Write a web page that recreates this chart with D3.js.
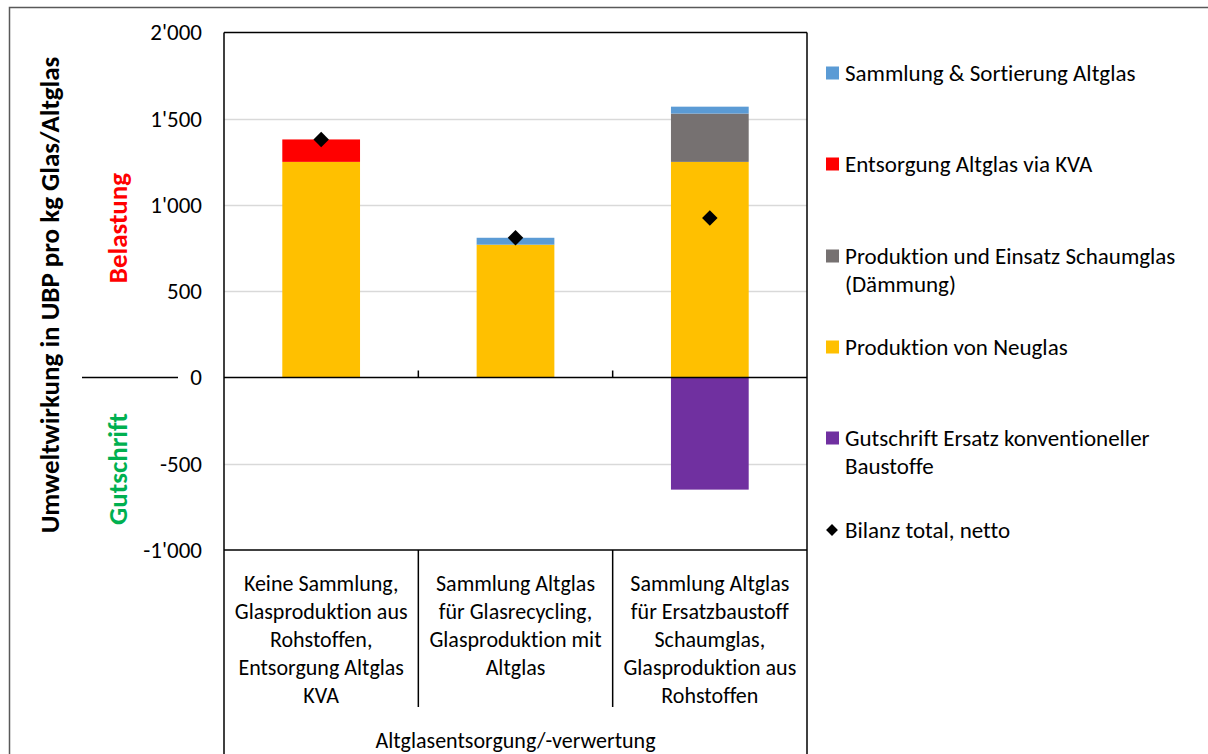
<!DOCTYPE html>
<html><head><meta charset="utf-8">
<script src="https://cdn.jsdelivr.net/npm/d3@7"></script>
<style>
html,body{margin:0;padding:0;background:#fff;}
svg text{font-family:Calibri, Carlito, Lato, "Open Sans", sans-serif; font-variant-ligatures:none; font-feature-settings:"liga" 0;}
</style></head>
<body>
<svg id="chart" width="1208" height="754"></svg>
<script>
// ---- data ----
const categories = [
  ["Keine Sammlung,", "Glasproduktion aus", "Rohstoffen,", "Entsorgung Altglas", "KVA"],
  ["Sammlung Altglas", "für Glasrecycling,", "Glasproduktion mit", "Altglas"],
  ["Sammlung Altglas", "für Ersatzbaustoff", "Schaumglas,", "Glasproduktion aus", "Rohstoffen"]
];
const groupLabel = "Altglasentsorgung/-verwertung";
const seriesNames = [
  "Sammlung & Sortierung Altglas",
  "Entsorgung Altglas via KVA",
  "Produktion und Einsatz Schaumglas (Dämmung)",
  "Produktion von Neuglas",
  "Gutschrift Ersatz konventioneller Baustoffe"
];
const sammlung   = [0, 40, 40];
const entsorgung = [130, 0, 0];
const schaumglas = [0, 0, 280];
const neuglas    = [1250, 770, 1250];
const gutschrift = [0, 0, -650];
const netto      = [1380, 810, 925];
const nettoName  = "Bilanz total, netto";
const yTicks = [-1000, -500, 0, 500, 1000, 1500, 2000];
const yTitle = "Umweltwirkung in UBP pro kg Glas/Altglas";
const posLabel = "Belastung";
const negLabel = "Gutschrift";

// ---- build ----
const colors = {
  "Sammlung & Sortierung Altglas": "#5b9bd5",
  "Entsorgung Altglas via KVA": "#ff0000",
  "Produktion und Einsatz Schaumglas (Dämmung)": "#767171",
  "Produktion von Neuglas": "#ffc000",
  "Gutschrift Ersatz konventioneller Baustoffe": "#7030a0"
};
const legendLines = [
  ["Sammlung & Sortierung Altglas"],
  ["Entsorgung Altglas via KVA"],
  ["Produktion und Einsatz Schaumglas", "(Dämmung)"],
  ["Produktion von Neuglas"],
  ["Gutschrift Ersatz konventioneller", "Baustoffe"]
];
const valuesBy = {
  [seriesNames[0]]: sammlung,
  [seriesNames[1]]: entsorgung,
  [seriesNames[2]]: schaumglas,
  [seriesNames[3]]: neuglas,
  [seriesNames[4]]: gutschrift
};
const table = categories.map((c, i) => {
  const row = {idx: i};
  seriesNames.forEach(s => row[s] = valuesBy[s][i]);
  return row;
});
const stackKeys = [seriesNames[4], seriesNames[3], seriesNames[2], seriesNames[1], seriesNames[0]];
const stacked = d3.stack().keys(stackKeys).offset(d3.stackOffsetDiverging)(table);

const svg = d3.select("#chart");
const L = 224, R = 807, T = 32.5, B = 550;
const x = d3.scaleBand().domain(categories.map((c, i) => i)).range([L, R]).paddingInner(0.6).paddingOuter(0.3);
const y = d3.scaleLinear().domain([-1000, 2000]).range([B, T]);
const fmt = d3.formatLocale({decimal: ".", thousands: "'", grouping: [3], currency: ["", ""], minus: "-"}).format(",");

// outer frame
svg.append("rect").attr("x", 9.5).attr("y", 7.5).attr("width", 1400).attr("height", 900)
  .attr("fill", "none").attr("stroke", "#595959").attr("stroke-width", 1.5);

// gridlines
svg.append("g").selectAll("line").data(yTicks.filter(t => t !== 0 && t !== 2000 && t !== -1000)).join("line")
  .attr("x1", L).attr("x2", R).attr("y1", d => Math.round(y(d)) + 0.5).attr("y2", d => Math.round(y(d)) + 0.5)
  .attr("stroke", "#d9d9d9").attr("stroke-width", 1.5);

// y axis labels
const yAxis = d3.axisLeft(y).tickValues(yTicks).tickFormat(fmt).tickSize(0).tickPadding(22);
const ya = svg.append("g").attr("transform", `translate(${L},0)`).call(yAxis);
ya.select(".domain").remove();
ya.selectAll("text").attr("font-size", 23).attr("fill", "#000")
  .style("font-family", "Calibri, Carlito, Lato, sans-serif");

// bars
svg.append("g").selectAll("g").data(stacked).join("g")
  .attr("fill", d => colors[d.key])
  .selectAll("rect").data(d => d.filter(p => p[1] - p[0] !== 0)).join("rect")
  .attr("x", d => x(d.data.idx)).attr("width", x.bandwidth())
  .attr("y", d => y(d[1])).attr("height", d => y(d[0]) - y(d[1]));

// plot borders
const lines = svg.append("g").attr("stroke", "#000").attr("stroke-width", 1.5).attr("fill", "none");
lines.append("line").attr("x1", L).attr("x2", L).attr("y1", T).attr("y2", 754);
lines.append("line").attr("x1", R).attr("x2", R).attr("y1", T).attr("y2", 754);
lines.append("line").attr("x1", L).attr("x2", R).attr("y1", T).attr("y2", T);
lines.append("line").attr("x1", L).attr("x2", R).attr("y1", B).attr("y2", B);
lines.append("line").attr("x1", L).attr("x2", R).attr("y1", y(0)).attr("y2", y(0));
lines.append("line").attr("x1", 82).attr("x2", 178).attr("y1", y(0)).attr("y2", y(0));
// category dividers and ticks
const step = x.step();
const dividers = [1, 2].map(i => L + step * i);
lines.selectAll(".div").data(dividers).join("line").attr("class", "div")
  .attr("x1", d => d).attr("x2", d => d).attr("y1", B).attr("y2", 707);
lines.selectAll(".tk").data(dividers).join("line").attr("class", "tk")
  .attr("x1", d => d).attr("x2", d => d).attr("y1", y(0) - 7).attr("y2", y(0));

// netto diamonds
svg.append("g").selectAll("path").data(netto).join("path")
  .attr("d", d3.symbol().type(d3.symbolSquare).size(120))
  .attr("transform", (d, i) => `translate(${x(i) + x.bandwidth() / 2},${y(d)}) rotate(45)`)
  .attr("fill", "#000");

// category labels
const catG = svg.append("g").attr("font-size", 22).attr("fill", "#000").attr("text-anchor", "middle");
categories.forEach((lns, i) => {
  const cx = x(i) + x.bandwidth() / 2;
  lns.forEach((t, j) => {
    catG.append("text").attr("x", cx).attr("y", 583 + j * 28).attr("dy", "0.35em").text(t);
  });
});
catG.append("text").attr("x", (L + R) / 2).attr("y", 740).attr("dy", "0.35em").text(groupLabel);

// y titles
svg.append("text").attr("transform", `translate(59,295) rotate(-90)`)
  .attr("text-anchor", "middle").attr("font-size", 27).attr("font-weight", "bold").attr("fill", "#000").text(yTitle);
svg.append("text").attr("transform", `translate(127,228) rotate(-90)`)
  .attr("text-anchor", "middle").attr("font-size", 27).attr("font-weight", "bold").attr("fill", "#ff0000").text(posLabel);
svg.append("text").attr("transform", `translate(127,469) rotate(-90)`)
  .attr("text-anchor", "middle").attr("font-size", 27).attr("font-weight", "bold").attr("fill", "#00b050").text(negLabel);

// legend
const legY = [73, 164, 256, 347, 438];
const lg = svg.append("g").attr("font-size", 23).attr("fill", "#000");
seriesNames.forEach((s, i) => {
  lg.append("rect").attr("x", 826).attr("y", legY[i] - 6.5).attr("width", 13).attr("height", 13).attr("fill", colors[s]);
  legendLines[i].forEach((t, j) => {
    lg.append("text").attr("x", 845).attr("y", legY[i] + j * 28).attr("dy", "0.35em").text(t);
  });
});
lg.append("path").attr("d", d3.symbol().type(d3.symbolSquare).size(70))
  .attr("transform", `translate(832,530) rotate(45)`).attr("fill", "#000");
lg.append("text").attr("x", 845).attr("y", 530).attr("dy", "0.35em").text(nettoName);
</script>
</body></html>
